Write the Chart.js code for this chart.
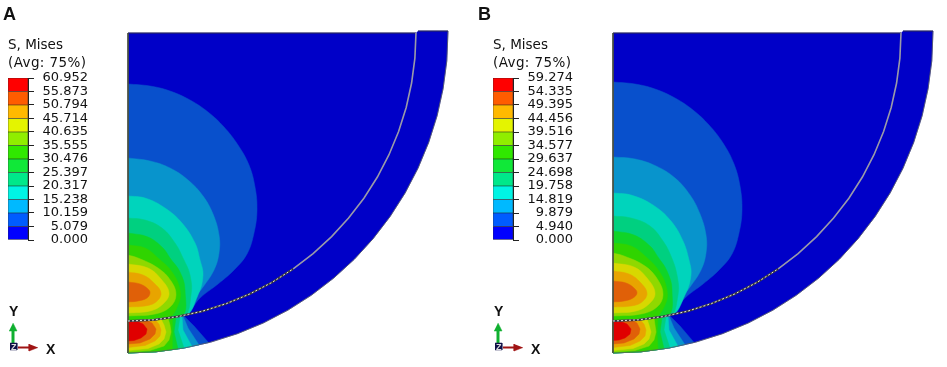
<!DOCTYPE html>
<html>
<head>
<meta charset="utf-8">
<title>S, Mises</title>
<script src="https://cdn.jsdelivr.net/npm/chart.js@4"></script>
<style>
    body { margin: 0; background: #fff; width: 947px; height: 367px; overflow: hidden; position: relative; }
    canvas { position: absolute; }
    .t { position: absolute; color: #111; white-space: nowrap; line-height: 1; }
    .panel { font: bold 18px "Liberation Sans", sans-serif; }
    .leg { font: 13.5px "DejaVu Sans", sans-serif; }
    .avg { letter-spacing: 0.4px; }
    .axis { font: bold 14px "Liberation Sans", sans-serif; }
    .z { font: bold 9px "Liberation Sans", sans-serif; color: #ddd; }
</style>
</head>
<body>
<canvas id="mapA" width="462" height="367" style="left:0;top:0"></canvas>
<canvas id="mapB" width="462" height="367" style="left:485px;top:0"></canvas>
<canvas id="legA" width="110" height="180" style="left:0;top:70px"></canvas>
<canvas id="legB" width="110" height="180" style="left:485px;top:70px"></canvas>

<div class="t panel" style="left:3px;top:4px">A</div>
<div class="t leg" style="left:8px;top:36px">S, Mises</div>
<div class="t leg avg" style="left:8px;top:54px">(Avg: 75%)</div>
<div class="t axis" style="left:9px;top:303px">Y</div>
<div class="t axis" style="left:46px;top:341px">X</div>
<div class="t z" style="left:11px;top:342px">Z</div>

<div class="t panel" style="left:478px;top:4px">B</div>
<div class="t leg" style="left:493px;top:36px">S, Mises</div>
<div class="t leg avg" style="left:493px;top:54px">(Avg: 75%)</div>
<div class="t axis" style="left:494px;top:303px">Y</div>
<div class="t axis" style="left:531px;top:341px">X</div>
<div class="t z" style="left:496px;top:342px">Z</div>

<script>
// legend values, bottom to top
const ticksA = [0, 5.079, 10.159, 15.238, 20.317, 25.397, 30.476, 35.555, 40.635, 45.714, 50.794, 55.873, 60.952];
const ticksB = [0, 4.940, 9.879, 14.819, 19.758, 24.698, 29.637, 34.577, 39.516, 44.456, 49.395, 54.335, 59.274];
const legendColors = ['#0000ff', '#005cff', '#00b9ff', '#00f4e4', '#00e88a', '#10e838', '#30e800', '#90ee00', '#e4f400', '#ffb900', '#ff5c00', '#ff0000'];
const bandColors = ['#0000c8', '#0850cc', '#0894cc', '#00d4bc', '#00d080', '#10d428', '#30d400', '#90d800', '#d8d800', '#e8a400', '#e06008', '#e00000'];

// outer edge of the lower body and the contact seam, read left to right
const outerRim = [[128,353],[155.9,351.8],[183.6,348.1],[210.8,342.1],[237.4,333.7],[263.2,323],[288,310.1],[311.5,295.1],[333.7,278.1],[354.3,259.3],[373.1,238.7],[390.1,216.5],[405.1,193],[418,168.2],[428.7,142.4],[437.1,115.8],[443.1,88.6],[446.8,60.9],[448,31]];
const seam = [[128,321],[153.1,319.9],[178,316.6],[202.5,311.2],[226.5,303.6],[249.7,294],[272,282.4],[293.2,268.9],[313.1,253.6],[331.6,236.6],[348.6,218.1],[363.9,198.2],[377.4,177],[389,154.7],[398.6,131.5],[406.2,107.5],[411.6,83],[414.9,58.1],[416,33]];

// contour boundaries of the upper body, lowest level first
const upperA = [
    [[128,84],[150,86],[170,91],[190,100],[208,112],[224,127],[238,145],[249,165],[255,187],[257,210],[254,233],[247,254],[234,270],[218,284],[200,298],[183,317],[128,325]],
    [[128,158],[150,161],[170,168],[188,180],[203,196],[213,214],[219,235],[219,253],[214,270],[203,287],[193,300],[183,317],[128,325]],
    [[128,196],[145,198],[165,208],[182,223],[195,243],[200,260],[203,275],[198,295],[184,317],[128,325]],
    [[128,218],[145,220],[162,228],[175,243],[183,258],[190,275],[191,295],[183,317],[128,325]],
    [[128,233],[148,237],[163,248],[170,258],[180,272],[185,290],[181,317],[128,325]],
    [[128,245],[145,248],[158,258],[172,272],[180,290],[178,305],[168,318],[128,325]],
    [[128,255],[138,258],[158,268],[171,281],[176,295],[170,307],[155,314],[128,316]],
    [[128,264],[148,268],[161,279],[169,293],[163,304],[150,311],[128,313]],
    [[128,272],[143,275],[154,283],[161,293],[156,302],[145,306],[128,307]],
    [[128,282],[140,284],[148,289],[150,293],[147,298],[138,301],[128,302]]
];
const upperB = [
    [[128,82],[150,84],[170,89],[190,98],[208,110],[224,125],[238,143],[249,164],[255,186],[257,210],[254,233],[247,254],[234,270],[218,284],[200,298],[184,317],[128,325]],
    [[128,157],[150,159],[171,166],[190,178],[205,195],[215,214],[221,235],[221,253],[216,270],[205,287],[195,300],[184,317],[128,325]],
    [[128,193],[146,195],[168,205],[186,221],[198,241],[204,260],[206,275],[200,295],[185,317],[128,325]],
    [[128,216],[146,218],[165,226],[178,241],[186,256],[192,275],[193,295],[184,317],[128,325]],
    [[128,231],[149,235],[165,246],[173,257],[182,271],[187,290],[182,317],[128,325]],
    [[128,243],[146,246],[160,256],[174,271],[182,290],[180,305],[169,318],[128,325]],
    [[128,253],[139,256],[160,266],[173,280],[178,295],[172,307],[156,314],[128,316]],
    [[128,263],[149,267],[162,278],[170,293],[164,304],[151,311],[128,313]],
    [[128,271],[144,274],[155,282],[162,293],[157,302],[146,306],[128,307]],
    [[128,281],[141,283],[149,288],[152,293],[148,298],[139,301],[128,302]]
];

// contour boundaries of the lower body, each runs from the seam to the outer edge
const lowerA = [
    [[184,316],[194,326],[208.5,342.6]],
    [[183,316],[188,328],[199,345]],
    [[182,316.2],[183,330],[192,346.5]],
    [[180,316.4],[178,330],[184,348]],
    [[176,317],[174,332],[178,348.9]],
    [[172,317.5],[172,333],[172,349.6]],
    [[168,318],[170,325],[171,332],[169,340],[164,346],[150,350.5],[128,352]],
    [[161,319],[164,325],[166,332],[164,339],[159,344],[148,348.5],[128,350.5]],
    [[155,319.8],[159,324],[161,330],[160,336],[155,341],[145,345.5],[128,347.5]],
    [[146,320.2],[152,323],[156,329],[155,334],[150,339],[140,343],[128,344]],
    [[136,320.8],[143,324],[147,329],[146,334],[141,338],[134,340.5],[128,341]]
];
const lowerB = [
    [[185,316],[195,326],[209,342.4]],
    [[184,316],[189,328],[200,344.8]],
    [[183,316.2],[184,330],[193,346.3]],
    [[181,316.4],[179,330],[185,348]],
    [[177,317],[175,332],[179,348.8]],
    [[173,317.5],[172,333],[173,349.5]],
    [[169,318],[170,325],[171,332],[169,340],[164,346],[150,350.5],[128,352]],
    [[162,319],[164,325],[166,332],[164,339],[159,344],[148,348.5],[128,350.5]],
    [[155,319.8],[159,324],[161,330],[160,336],[155,341],[145,345.5],[128,347.5]],
    [[147,320.2],[152,323],[155,329],[154,334],[149,339],[139,343],[128,344]],
    [[134,320.8],[142,324],[146,329],[145,334],[140,338],[134,340],[128,340.5]]
];

// triad
const greenShaft = [[13,343],[13,330]];
const greenHead = [[9,331],[17,331],[13,323]];
const redShaft = [[18,347.5],[30,347.5]];
const redHead = [[29,344],[29,351],[38,347.5]];
const triadDot = [[10,343],[17,343],[17,350],[10,350]];

function toXY(points) {
    return points.map(p => ({ x: p[0], y: p[1] }));
}

function shape(points, color, tension) {
    return { data: toXY(points), showLine: true, fill: 'shape', backgroundColor: color, borderColor: color, borderWidth: 0.5, pointRadius: 0, tension: tension || 0 };
}

function stroke(points, color, width, dash) {
    return { data: toXY(points), showLine: true, fill: false, borderColor: color, borderWidth: width, borderDash: dash || [], pointRadius: 0 };
}

// close a lower contour along the outer edge and back along the seam
function lowerShape(curve) {
    const start = curve[0];
    const end = curve[curve.length - 1];
    const rimPart = outerRim.filter(p => p[0] < end[0]).reverse();
    const seamPart = seam.filter(p => p[0] < start[0]);
    return curve.concat(rimPart, seamPart);
}

function drawMap(id, upper, lower) {
    let sets = [];
    // upper body
    sets.push(shape([[128,33]].concat(seam.slice().reverse()), bandColors[0]));
    upper.forEach((c, i) => sets.push(shape(c, bandColors[i + 1], 0.4)));
    // lower body
    sets.push(shape([[418,31]].concat([[448,31]], outerRim.slice().reverse(), seam), bandColors[0]));
    lower.forEach((c, i) => sets.push(shape(lowerShape(c), bandColors[i + 1])));
    // edges
    sets.push(stroke([[128,33],[128,353]], '#4a5040', 1));
    sets.push(stroke([[128,33],[416,33]], '#30304a', 1));
    sets.push(stroke(outerRim, '#5a6060', 0.8));
    sets.push(stroke([[418,31],[448,31]], '#30304a', 1));
    sets.push(stroke(seam, '#9a9aa8', 1.6));
    sets.push(stroke(seam.slice(0, 8), '#33333c', 2));
    sets.push(stroke(seam.slice(0, 8), '#e4e4e4', 1, [2, 2]));
    // triad
    sets.push(stroke(greenShaft, '#10b030', 3));
    sets.push(shape(greenHead, '#10b030'));
    sets.push(stroke(redShaft, '#a01414', 2));
    sets.push(shape(redHead, '#a01414'));
    sets.push(shape(triadDot, '#101048'));

    new Chart(document.getElementById(id), {
        type: 'scatter',
        // first dataset ends up on top, so hand them over reversed
        data: { datasets: sets.reverse() },
        options: {
            responsive: false,
            animation: false,
            layout: { padding: 0 },
            plugins: { legend: { display: false }, tooltip: { enabled: false } },
            scales: {
                x: { type: 'linear', display: false, min: 0, max: 462 },
                y: { type: 'linear', display: false, min: 0, max: 367, reverse: true }
            }
        }
    });
}

function drawLegend(id, ticks) {
    const sets = legendColors.map((c, i) => ({
        data: [[ticks[i], ticks[i + 1]]],
        backgroundColor: c,
        borderColor: '#222',
        borderWidth: 0.6,
        borderSkipped: false,
        categoryPercentage: 1,
        barPercentage: 1
    }));
    new Chart(document.getElementById(id), {
        type: 'bar',
        data: { labels: ['S'], datasets: sets },
        options: {
            responsive: false,
            animation: false,
            layout: { padding: { left: 8, top: 8, bottom: 10, right: 22 } },
            plugins: { legend: { display: false }, tooltip: { enabled: false } },
            scales: {
                x: { display: false, stacked: true },
                y: {
                    position: 'right',
                    min: 0,
                    max: ticks[ticks.length - 1],
                    afterBuildTicks: scale => { scale.ticks = ticks.map(v => ({ value: v })); },
                    afterFit: scale => { scale.width = 60; },
                    ticks: {
                        autoSkip: false,
                        crossAlign: 'far',
                        padding: 0,
                        color: '#111',
                        font: { family: '"DejaVu Sans"', size: 13 },
                        callback: v => v.toFixed(3)
                    },
                    grid: { drawOnChartArea: false, tickLength: 6, color: '#222' },
                    border: { color: '#222' }
                }
            }
        }
    });
}

drawMap('mapA', upperA, lowerA);
drawMap('mapB', upperB, lowerB);
drawLegend('legA', ticksA);
drawLegend('legB', ticksB);
</script>
</body>
</html>
